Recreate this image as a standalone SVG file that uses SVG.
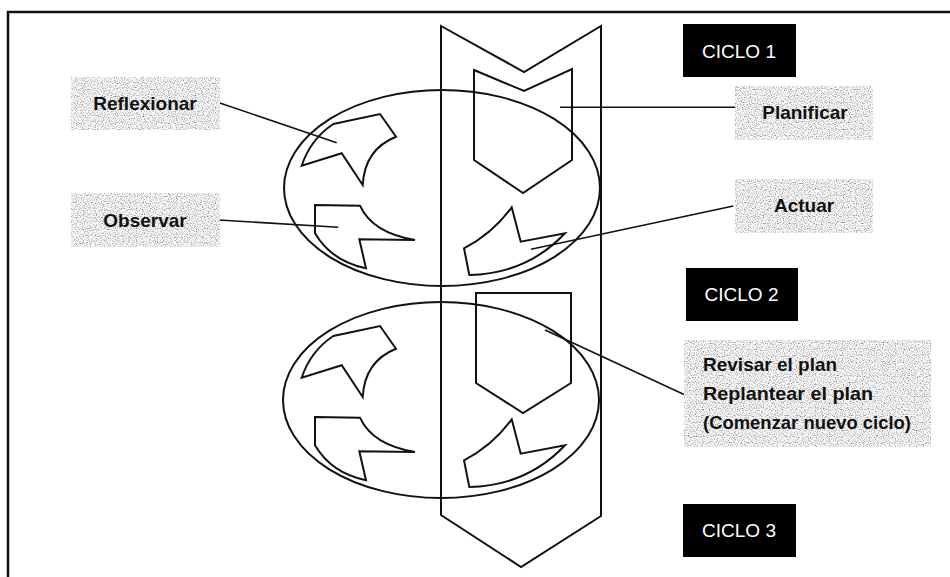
<svg xmlns="http://www.w3.org/2000/svg" width="950" height="577" viewBox="0 0 950 577">
<defs>
<filter id="speckle" x="0" y="0" width="100%" height="100%">
<feTurbulence type="fractalNoise" baseFrequency="0.85" numOctaves="1" seed="7" result="n"/>
<feColorMatrix in="n" type="matrix" values="2.2 0 0 0 -0.27  2.2 0 0 0 -0.27  2.2 0 0 0 -0.27  0 0 0 0 1" result="g"/>
<feComposite in="g" in2="SourceGraphic" operator="in"/>
</filter>
<path id="petR" d="M333.3,124 L380,114 L396,136.7 Q364.7,149.2 362.7,185 L341.7,153.3 L301.7,165.7 Q310.5,139.2 333.3,124 Z"/>
<path id="petO" d="M315,205 L360,205.7 Q372.5,233.1 415,240 L359.3,239.3 L366,268.3 Q331.5,261.2 315,233.3 Z"/>
<path id="petA" d="M511.7,207.3 L520.7,241.7 L565,233.3 Q526.8,273.8 469.3,275 L464,248.3 Q492.5,233.5 511.7,207.3 Z"/>
</defs>
<style>
.sh{fill:none;stroke:#111;stroke-width:2;stroke-linejoin:miter}
.ln{fill:none;stroke:#111;stroke-width:1.6}
.box{fill:#d9d9d9;filter:url(#speckle)}
.lbl{font-family:"Liberation Sans",Arial,sans-serif;font-weight:bold;font-size:19px;fill:#111}
.cyc{fill:#000}
.cyt{font-family:"Liberation Sans",Arial,sans-serif;font-size:19px;fill:#fff;text-anchor:middle}
</style>
<rect width="950" height="577" fill="#fff"/>
<path d="M8,577 V12 H950" fill="none" stroke="#111" stroke-width="2.5"/>

<g id="band">
<polygon class="sh" points="441,26 524,72 601,26 601,516 521,567 441,515"/>
</g>
<g id="plan1">
<polygon class="sh" points="474,70 524,91 572,69 572,160 523,193 474,160"/>
</g>
<g id="plan2">
<polygon class="sh" points="476,293 571,293 571,383 523,413 476,383"/>
</g>
<g id="ciclo1-ellipse">
<ellipse class="sh" cx="442" cy="188" rx="158" ry="98"/>
<use href="#petR" class="sh"/>
<use href="#petO" class="sh"/>
<use href="#petA" class="sh"/>
</g>
<g id="ciclo2-ellipse">
<ellipse class="sh" cx="441" cy="400" rx="158" ry="98"/>
<use href="#petR" class="sh" transform="translate(0,212)"/>
<use href="#petO" class="sh" transform="translate(0,212)"/>
<use href="#petA" class="sh" transform="translate(0,212)"/>
</g>

<g id="connectors">
<line class="ln" x1="219" y1="102.7" x2="336.7" y2="142.7"/>
<line class="ln" x1="219" y1="220" x2="338.3" y2="227.3"/>
<line class="ln" x1="560" y1="107.3" x2="735" y2="107.3"/>
<line class="ln" x1="733.3" y1="206" x2="531" y2="249.3"/>
<line class="ln" x1="545" y1="330" x2="684" y2="394.5"/>
</g>

<g id="reflexionar">
<rect class="box" x="71" y="77" width="149" height="53"/>
<text class="lbl" x="145" y="110" text-anchor="middle">Reflexionar</text>
</g>
<g id="observar">
<rect class="box" x="71" y="193" width="149" height="54"/>
<text class="lbl" x="145" y="227" text-anchor="middle">Observar</text>
</g>
<g id="planificar">
<rect class="box" x="735" y="86" width="138" height="54"/>
<text class="lbl" x="805" y="119" text-anchor="middle">Planificar</text>
</g>
<g id="actuar">
<rect class="box" x="735" y="179" width="138" height="54"/>
<text class="lbl" x="804" y="212" text-anchor="middle">Actuar</text>
</g>
<g id="revisar">
<rect class="box" x="684" y="340" width="247" height="107"/>
<text class="lbl" x="703" y="370.5">Revisar el plan</text>
<text class="lbl" x="703" y="399.5" textLength="170" lengthAdjust="spacingAndGlyphs">Replantear el plan</text>
<text class="lbl" x="703" y="428.5" textLength="208" lengthAdjust="spacingAndGlyphs">(Comenzar nuevo ciclo)</text>
</g>
<g id="ciclo1">
<rect class="cyc" x="683" y="24" width="113" height="53"/>
<text class="cyt" x="739" y="57.5">CICLO 1</text>
</g>
<g id="ciclo2">
<rect class="cyc" x="686" y="268" width="112" height="53"/>
<text class="cyt" x="741.5" y="300.5">CICLO 2</text>
</g>
<g id="ciclo3">
<rect class="cyc" x="683" y="504" width="113" height="53"/>
<text class="cyt" x="739" y="537">CICLO 3</text>
</g>
</svg>
